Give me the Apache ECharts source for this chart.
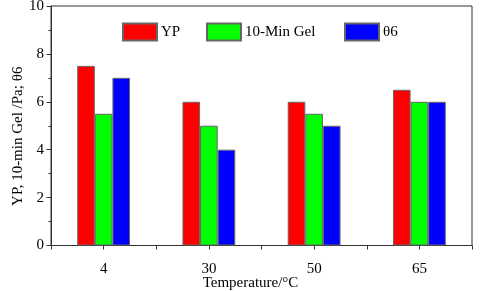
<!DOCTYPE html>
<html>
<head>
<meta charset="utf-8">
<script src="https://cdn.jsdelivr.net/npm/echarts@6/dist/echarts.min.js"></script>
<style>html,body{margin:0;padding:0;background:#fff;}#c{width:480px;height:291px;}</style>
</head>
<body>
<div id="c"></div>
<script>
const categories = ['4', '30', '50', '65'];
const seriesNames = ['YP', '10-Min Gel', 'θ6'];
const ypValues = [7.5, 6, 6, 6.5];
const gelValues = [5.5, 5, 5.5, 6];
const theta6Values = [7, 4, 5, 6];
const yTicks = [0, 2, 4, 6, 8, 10];

const FONT = "'Liberation Serif', 'Times New Roman', serif";
const chart = echarts.init(document.getElementById('c'), null, {renderer: 'canvas'});
const colors = ['#ff0000', '#00ff00', '#0000ff'];
const values = [ypValues, gelValues, theta6Values];
const legendLefts = [122, 206, 344];

chart.setOption({
  animation: false,
  backgroundColor: '#fff',
  textStyle: {fontFamily: FONT},
  grid: {left: 51, right: 8, top: 6, bottom: 45.5, containLabel: false, outerBoundsMode: 'none',
    show: true, borderColor: '#333', borderWidth: 1, backgroundColor: 'transparent'},
  legend: seriesNames.map((n, i) => ({
    left: legendLefts[i], top: 22.5, padding: 0, itemWidth: 34, itemHeight: 17,
    icon: 'rect',
    textStyle: {fontFamily: FONT, fontSize: 15, color: '#000', padding: [0, 0, 0, -1]},
    data: [n]
  })),
  xAxis: [{
    type: 'category', data: categories, boundaryGap: true,
    name: 'Temperature/°C', nameLocation: 'middle', nameGap: 30.5, nameMoveOverlap: false,
    nameTextStyle: {fontFamily: FONT, fontSize: 15, color: '#000', padding: [0, 22, 0, 0]},
    axisLine: {lineStyle: {color: '#333', width: 1}},
    axisTick: {show: true, length: 4, inside: false, lineStyle: {color: '#333'}},
    axisLabel: {fontFamily: FONT, fontSize: 15, color: '#000', margin: 16},
    splitLine: {show: false}
  }, {
    type: 'category', data: categories, boundaryGap: true, position: 'bottom',
    axisLine: {show: false},
    axisTick: {show: true, alignWithLabel: true, length: 4, lineStyle: {color: '#333'}},
    axisLabel: {show: false},
    splitLine: {show: false}
  }],
  yAxis: {
    type: 'value', min: 0, max: 10, interval: 2,
    name: 'YP, 10-min Gel /Pa; θ6', nameLocation: 'middle', nameGap: 25, nameMoveOverlap: false,
    nameTextStyle: {fontFamily: FONT, fontSize: 15, color: '#000', padding: [0, 21, 0, 0]},
    axisLine: {show: true, lineStyle: {color: '#333', width: 1}},
    axisTick: {show: true, length: 4.5, lineStyle: {color: '#333'}},
    minorTick: {show: true, splitNumber: 2, length: 2.5, lineStyle: {color: '#333'}},
    axisLabel: {fontFamily: FONT, fontSize: 15, color: '#000', margin: 7,
      formatter: v => yTicks.includes(v) ? String(v) : ''},
    splitLine: {show: false}
  },
  series: seriesNames.map((n, i) => ({
    name: n, type: 'bar', xAxisIndex: 0, data: values[i],
    barWidth: 17.6, barGap: '0%',
    itemStyle: {color: colors[i], borderColor: '#666', borderWidth: 1}
  }))
});
</script>
</body>
</html>
